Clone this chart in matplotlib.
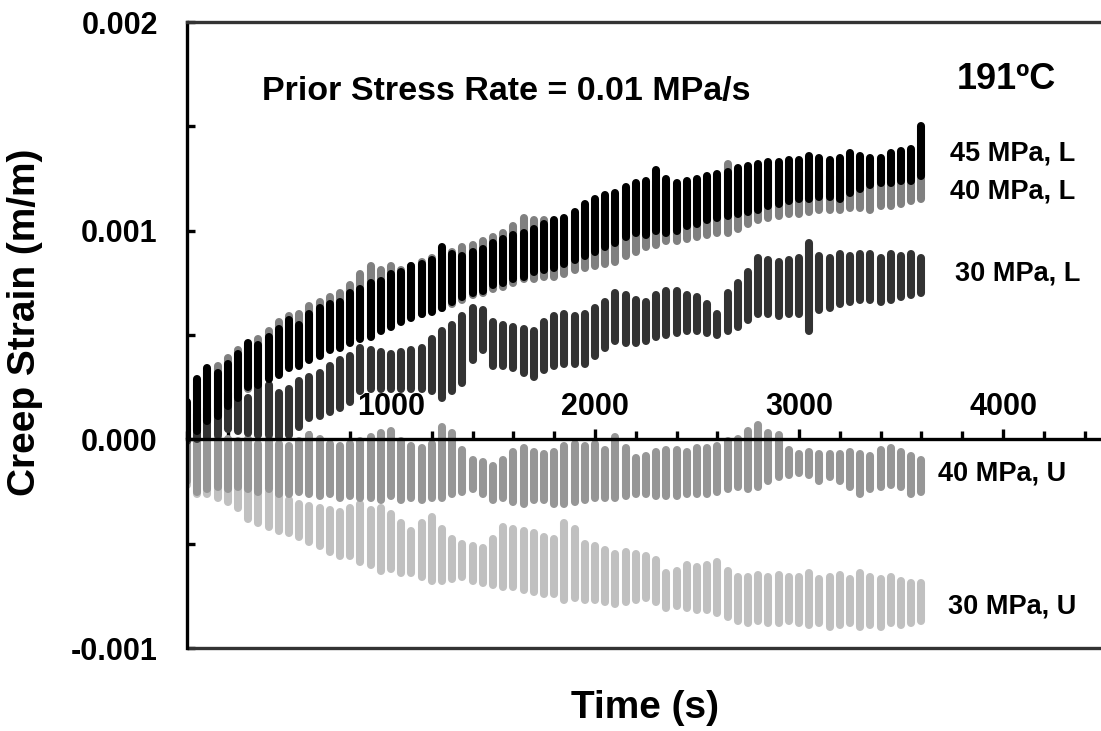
import matplotlib
matplotlib.use("Agg")
import matplotlib.pyplot as plt
from matplotlib.ticker import MultipleLocator, FixedLocator

plt.rcParams['font.family'] = ['Liberation Sans', 'DejaVu Sans']
plt.rcParams['font.weight'] = 'bold'

# Time of each data column (s)
time_s = list(range(0, 3601, 50))

# Column extents (top / bottom) in units of 1e-4 m/m
s45L_hi = [1.8, 2.9, 3.4, 3.2, 3.6, 4.1, 4.6, 4.5, 4.9, 5.3, 5.7, 5.5, 6.0, 6.3, 6.5, 6.6, 7.0, 7.2, 7.5,
           7.6, 7.9, 8.0, 8.3, 8.4, 8.6, 9.2, 8.9, 8.8, 9.0, 9.1, 9.4, 9.6, 9.8, 9.9, 10.1, 10.3, 10.5,
           10.6, 10.9, 11.3, 11.5, 11.7, 11.8, 12.1, 12.3, 12.4, 12.9, 12.5, 12.3, 12.4, 12.5, 12.6, 12.7,
           12.8, 13.0, 13.1, 13.2, 13.3, 13.3, 13.4, 13.4, 13.6, 13.5, 13.4, 13.5, 13.7, 13.6, 13.5, 13.5,
           13.7, 13.8, 13.9, 15.0]
s45L_lo = [0.0, 0.4, 0.9, 1.1, 1.6, 2.0, 2.5, 2.6, 2.9, 3.1, 3.4, 3.5, 3.8, 4.0, 4.3, 4.4, 4.6, 4.8, 4.9,
           5.2, 5.4, 5.6, 5.8, 6.0, 6.1, 6.3, 6.6, 6.8, 7.0, 7.1, 7.4, 7.5, 7.7, 7.8, 8.0, 8.1, 8.2,
           8.4, 8.6, 8.8, 9.0, 9.2, 9.4, 9.7, 9.9, 9.8, 10.0, 9.9, 10.0, 10.2, 10.3, 10.5, 10.6,
           10.7, 10.8, 10.9, 11.0, 11.2, 11.3, 11.4, 11.5, 11.5, 11.6, 11.6, 11.5, 11.8, 12.0, 12.2, 12.3,
           12.3, 12.4, 12.4, 12.6]

s40L_hi = [1.5, 2.6, 3.2, 3.5, 3.9, 4.3, 4.5, 4.8, 5.2, 5.6, 5.9, 6.0, 6.4, 6.6, 6.8, 7.0, 7.4, 7.9, 8.3,
           8.1, 8.3, 8.1, 8.3, 8.5, 8.7, 8.8, 9.0, 9.2, 9.3, 9.5, 9.7, 9.9, 10.2, 10.6, 10.5, 10.5, 10.4,
           10.5, 10.7, 10.9, 11.1, 11.3, 11.4, 11.6, 11.9, 12.0, 12.2, 12.3, 12.1, 12.0, 12.1, 12.3, 12.6,
           13.2, 12.7, 12.6, 12.7, 12.8, 12.9, 12.9, 12.8, 12.8, 12.7, 12.6, 12.6, 12.5, 12.7, 12.8, 12.9,
           12.8, 12.8, 12.9, 12.8]
s40L_lo = [0.0, 0.5, 1.0, 1.3, 1.7, 2.1, 2.4, 2.7, 3.0, 3.3, 3.6, 3.7, 4.0, 4.2, 4.4, 4.6, 4.8, 5.0, 5.3,
           5.4, 5.6, 5.7, 5.9, 6.0, 6.2, 6.3, 6.5, 6.7, 6.9, 7.0, 7.2, 7.3, 7.5, 7.7, 7.7, 7.8, 7.8,
           7.9, 8.1, 8.2, 8.3, 8.4, 8.5, 8.8, 9.0, 9.2, 9.3, 9.5, 9.5, 9.6, 9.7, 9.8, 9.9,
           9.9, 10.1, 10.3, 10.5, 10.6, 10.7, 10.8, 10.8, 10.9, 11.0, 11.0, 11.0, 11.1, 11.1, 11.0, 11.2,
           11.2, 11.3, 11.4, 11.5]

s30L_hi = [0.8, 1.2, 1.5, 1.9, 2.2, 2.4, 2.0, 2.6, 2.6, 2.2, 2.4, 2.8, 3.0, 3.2, 3.5, 3.8, 4.0, 4.4, 4.3,
           4.2, 4.1, 4.2, 4.3, 4.4, 4.8, 5.2, 5.5, 5.9, 6.3, 6.2, 5.6, 5.5, 5.4, 5.3, 5.2, 5.6, 5.9,
           6.0, 5.9, 6.0, 6.3, 6.6, 7.0, 6.9, 6.7, 6.6, 6.9, 7.1, 7.1, 6.9, 6.8, 6.5, 6.0,
           7.0, 7.5, 8.0, 8.7, 8.6, 8.5, 8.6, 8.7, 9.4, 8.8, 8.7, 8.9, 8.8, 8.9, 8.9, 8.7,
           8.9, 8.8, 8.9, 8.7]
s30L_lo = [-0.1, 0.0, 0.1, 0.2, 0.5, 0.4, 0.3, 0.2, 0.2, 0.1, 0.2, 0.6, 1.0, 1.1, 1.3, 1.5, 1.8, 2.3, 2.4,
           2.4, 2.4, 2.4, 2.4, 2.4, 2.3, 2.0, 2.3, 2.7, 3.8, 4.3, 3.5, 3.5, 3.4, 3.2, 3.0, 3.3, 3.5,
           3.6, 3.6, 3.6, 4.0, 4.4, 4.7, 4.6, 4.6, 4.7, 4.9, 5.0, 5.1, 5.2, 5.2, 5.1, 5.0,
           5.2, 5.4, 5.7, 6.0, 6.0, 5.9, 6.0, 6.0, 5.2, 6.2, 6.3, 6.5, 6.6, 6.7, 6.7, 6.6,
           6.7, 6.8, 6.9, 7.0]

s40U_hi = [0.5, 0.3, 0.4, 0.1, 0.0, -0.1, 0.0, -0.2, 0.0, -0.2, -0.3, -0.1, 0.2, 0.0, -0.2, -0.3, -0.2, -0.1, 0.1,
           0.3, 0.4, -0.1, -0.3, -0.4, -0.2, 0.6, 0.3, -0.5, -1.0, -1.1, -1.3, -1.0, -0.6, -0.4, -0.6, -0.7, -0.6,
           -0.3, -0.2, -0.3, -0.2, -0.5, 0.1, -0.4, -0.9, -0.8, -0.6, -0.5, -0.5, -0.6, -0.4, -0.4, -0.3,
           -0.1, 0.0, 0.4, 0.7, 0.3, 0.2, -0.5, -0.7, -0.6, -0.7, -0.7, -0.7, -0.6, -0.7, -0.8, -0.5,
           -0.4, -0.6, -0.8, -1.0]
s40U_lo = [-2.0, -2.5, -2.4, -2.3, -2.4, -2.3, -2.4, -2.5, -2.4, -2.6, -2.6, -2.5, -2.6, -2.7, -2.6, -2.8, -2.7, -2.8, -2.8,
           -2.9, -2.7, -2.9, -2.8, -2.9, -2.8, -2.8, -2.6, -2.5, -2.4, -2.6, -2.9, -2.8, -3.0, -3.1, -2.9, -2.9, -3.1,
           -3.1, -3.0, -2.9, -2.8, -2.8, -2.8, -2.7, -2.6, -2.6, -2.7, -2.7, -2.7, -2.6, -2.6, -2.6, -2.5,
           -2.4, -2.3, -2.4, -2.3, -2.0, -1.8, -1.7, -1.6, -1.7, -2.0, -1.8, -2.0, -2.3, -2.6, -2.4, -2.3,
           -2.2, -2.3, -2.6, -2.5]

s30U_hi = [0.3, 0.0, -0.2, -0.5, -0.9, -1.2, -1.7, -2.2, -2.5, -2.6, -2.9, -3.1, -3.2, -3.3, -3.4, -3.5, -3.3, -3.1, -3.4,
           -3.3, -3.6, -4.0, -4.4, -4.0, -3.7, -4.3, -4.8, -5.0, -5.1, -5.2, -4.8, -4.2, -4.3, -4.4, -4.5, -4.7, -4.8,
           -4.0, -4.3, -5.0, -5.1, -5.3, -5.5, -5.4, -5.5, -5.6, -5.8, -6.4, -6.3, -6.0, -6.1, -6.0, -5.9,
           -6.3, -6.6, -6.6, -6.5, -6.6, -6.5, -6.6, -6.6, -6.4, -6.7, -6.6, -6.5, -6.7, -6.4, -6.6, -6.7,
           -6.6, -6.8, -6.9, -6.9]
s30U_lo = [-2.2, -2.6, -2.6, -2.8, -3.0, -3.3, -3.8, -4.0, -4.2, -4.4, -4.5, -4.7, -4.9, -5.1, -5.4, -5.6, -5.6, -5.9, -6.0,
           -6.3, -6.2, -6.4, -6.4, -6.6, -6.8, -6.8, -6.7, -6.6, -6.8, -6.9, -7.0, -7.1, -7.1, -7.2, -7.3, -7.4, -7.4,
           -7.7, -7.6, -7.7, -7.7, -7.8, -7.9, -7.8, -7.7, -7.6, -7.8, -8.1, -8.0, -8.1, -8.2, -8.2, -8.3,
           -8.5, -8.7, -8.8, -8.7, -8.8, -8.8, -8.7, -8.8, -8.9, -8.8, -9.0, -8.9, -8.8, -9.0, -8.9, -9.0,
           -8.8, -8.9, -8.8, -8.7]

series_labels = ["30 MPa, U", "40 MPa, U", "30 MPa, L", "40 MPa, L", "45 MPa, L"]
series_hi = [s30U_hi, s40U_hi, s30L_hi, s40L_hi, s45L_hi]
series_lo = [s30U_lo, s40U_lo, s30L_lo, s40L_lo, s45L_lo]
series_colors = ["#c0c0c0", "#969696", "#333333", "#808080", "#000000"]
# label anchor (time s, strain at baseline)
label_pos = [(3730, -0.000835), (3681, -0.000197), (3765, 0.000763), (3740, 0.001156), (3740, 0.001338)]

x_major = [1000, 2000, 3000, 4000]
x_major_labels = ["1000", "2000", "3000", "4000"]
y_major = [-0.001, 0.0, 0.001, 0.002]
y_major_labels = ["-0.001", "0.000", "0.001", "0.002"]

W, H = 1101, 731
fig = plt.figure(figsize=(W / 100, H / 100), dpi=100)
left_px, right_px, top_px, bot_px = 187, 1101, 22, 648
ax = fig.add_axes([left_px / W, (H - bot_px) / H, (right_px - left_px) / W, (bot_px - top_px) / H])

ax.set_xlim(0, 4480)
ax.set_ylim(-0.001, 0.002)

for hi, lo, col in zip(series_hi, series_lo, series_colors):
    lc = ax.vlines(time_s, [v * 1e-4 for v in lo], [v * 1e-4 for v in hi], colors=col, linewidth=5.8)
    lc.set_capstyle('round')

for lab, (tx, ty) in zip(series_labels, label_pos):
    ax.text(tx, ty, lab, fontsize=19.5, fontweight='bold', ha='left', va='baseline')

ax.text(368, 0.001626, "Prior Stress Rate = 0.01 MPa/s", fontsize=24.5, fontweight='bold', ha='left', va='baseline')
ax.text(3775, 0.001679, "191ºC", fontsize=26, fontweight='bold', ha='left', va='baseline')

# spines
ax.spines['right'].set_visible(False)
ax.spines['top'].set_color('#333333')
ax.spines['top'].set_linewidth(2.4)
ax.spines['left'].set_color('black')
ax.spines['left'].set_linewidth(2.4)
ax.spines['bottom'].set_position(('data', 0))
ax.spines['bottom'].set_color('black')
ax.spines['bottom'].set_linewidth(2.4)
ax.plot([0, 1], [0, 0], transform=ax.transAxes, color='#333333', lw=2.4, clip_on=False,
        solid_capstyle='butt')

ax.set_xticks(x_major)
ax.set_xticklabels(x_major_labels)
ax.xaxis.set_minor_locator(MultipleLocator(200))
ax.set_yticks(y_major)
ax.set_yticklabels(y_major_labels)
ax.yaxis.set_minor_locator(FixedLocator([-0.0005, 0.0005, 0.0015]))

ax.tick_params(axis='x', which='major', direction='in', length=7, width=2.4, pad=-34,
               labelsize=22)
ax.tick_params(axis='x', which='minor', direction='in', length=5.5, width=2.4)
ax.tick_params(axis='y', which='major', direction='in', length=5.5, width=2.4, pad=21, labelsize=22)
ax.tick_params(axis='y', which='minor', direction='in', length=5.5, width=2.4)
for lbl in ax.get_xticklabels() + ax.get_yticklabels():
    lbl.set_fontweight('bold')

fig.text(645 / W, 1 - 708 / H, "Time (s)", fontsize=28, fontweight='bold', ha='center', va='center')
fig.text(25 / W, 1 - 322 / H, "Creep Strain (m/m)", fontsize=28, fontweight='bold', ha='center',
         va='center', rotation=90)

fig.savefig("out.png", dpi=100)
